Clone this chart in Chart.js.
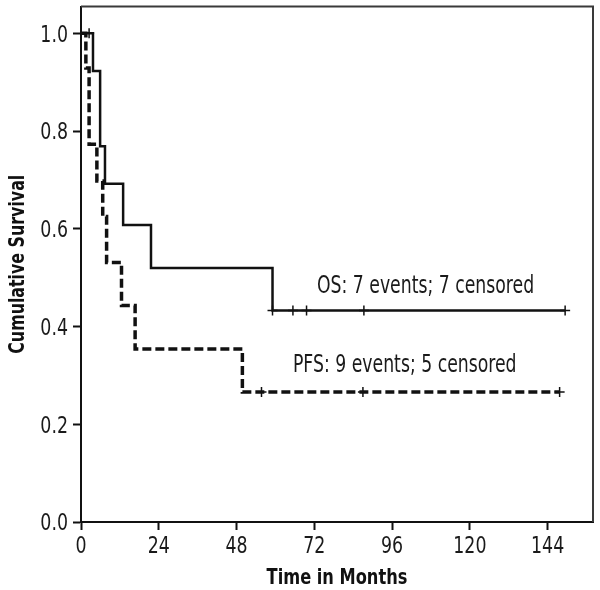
<!DOCTYPE html>
<html>
<head>
<meta charset="utf-8">
<script src="https://cdn.jsdelivr.net/npm/chart.js@4"></script>
<style>
  html, body { margin: 0; padding: 0; background: #fff; }
  #wrap { width: 600px; height: 590px; }
</style>
</head>
<body>
<div id="wrap"><canvas id="c" width="600" height="590"></canvas></div>
<script>
// ---- Data ----
// Overall survival (OS): step times (months) and survival after each step
const osTimes = [0, 3.7, 5.9, 7.4, 13.0, 21.6, 59.1, 149.4];
const osSurv  = [1.0, 0.923, 0.769, 0.692, 0.608, 0.520, 0.433, 0.433];
const osCensorTimes = [2.5, 59.1, 65.4, 69.6, 87.3, 149.4];

// Progression-free survival (PFS)
const pfsTimes = [0, 1.5, 2.5, 4.9, 6.7, 7.9, 12.5, 16.7, 49.8, 147.7];
const pfsSurv  = [1.0, 0.929, 0.773, 0.698, 0.625, 0.531, 0.443, 0.354, 0.266, 0.266];
const pfsCensorTimes = [55.7, 87.0, 147.7];

const xTicks = [0, 24, 48, 72, 96, 120, 144];
const yTicks = [0.0, 0.2, 0.4, 0.6, 0.8, 1.0];

const xTitle = 'Time in Months';
const yTitle = 'Cumulative Survival';
const osLabel = 'OS: 7 events; 7 censored';
const pfsLabel = 'PFS: 9 events; 5 censored';

// ---- helpers ----
function survAt(times, surv, t) {
  let s = surv[0];
  for (let i = 0; i < times.length; i++) { if (times[i] <= t) s = surv[i]; }
  return s;
}
const toPts = (ts, ss) => ts.map((t, i) => ({ x: t, y: ss[i] }));
const censorPts = (ct, ts, ss) => ct.map(t => ({ x: t, y: survAt(ts, ss, t) }));

const FONT = '"DejaVu Sans Condensed", "Liberation Sans Narrow", "Liberation Sans", Arial, sans-serif';

// draw horizontally condensed text (to mimic a condensed Helvetica)
function condText(ctx, text, x, y, opt) {
  ctx.save();
  ctx.translate(x, y);
  if (opt.rotate) ctx.rotate(opt.rotate);
  ctx.scale(opt.sx || 1, 1);
  ctx.font = (opt.weight || 'normal') + ' ' + opt.size + 'px ' + FONT;
  ctx.fillStyle = opt.color || '#1a1a1a';
  ctx.textAlign = opt.align || 'left';
  ctx.textBaseline = 'alphabetic';
  ctx.fillText(text, 0, 0);
  ctx.restore();
}

const boxPlugin = {
  id: 'box',
  afterDatasetsDraw(chart) {
    const { ctx, chartArea: a } = chart;
    ctx.save();
    ctx.strokeStyle = '#3a3a3a';
    ctx.lineWidth = 2;
    ctx.beginPath();
    ctx.moveTo(a.left, a.top);
    ctx.lineTo(a.right, a.top);
    ctx.lineTo(a.right, a.bottom);
    ctx.stroke();
    ctx.restore();
  }
};

const textPlugin = {
  id: 'labels',
  afterDraw(chart, args, opts) {
    const { ctx, chartArea: a, scales: { x, y } } = chart;
    // tick labels, positioned by the library's scales
    x.ticks.forEach(t => {
      condText(ctx, String(t.value), x.getPixelForValue(t.value), a.bottom + 31,
        { size: 23, sx: 0.84, align: 'center' });
    });
    y.ticks.forEach(t => {
      condText(ctx, t.value.toFixed(1), a.left - 13, y.getPixelForValue(t.value) + 8.4,
        { size: 23, sx: 0.84, align: 'right' });
    });
    // axis titles
    condText(ctx, xTitle, (a.left + a.right) / 2, a.bottom + 62,
      { size: 22, sx: 0.82, align: 'center', weight: 'bold', color: '#111' });
    condText(ctx, yTitle, 24, (a.top + a.bottom) / 2,
      { size: 22, sx: 0.8, align: 'center', weight: 'bold', color: '#111', rotate: -Math.PI / 2 });
    // annotations
    (opts.items || []).forEach(it => {
      condText(ctx, it.text, x.getPixelForValue(it.x), y.getPixelForValue(it.y),
        { size: 24, sx: 0.8, align: 'left' });
    });
  }
};

new Chart(document.getElementById('c'), {
  type: 'line',
  data: {
    datasets: [
      { label: 'OS', data: toPts(osTimes, osSurv), stepped: true, borderColor: '#111', borderWidth: 2.5,
        pointRadius: 0, fill: false },
      { label: 'PFS', data: toPts(pfsTimes, pfsSurv), stepped: true, borderColor: '#111', borderWidth: 3.5,
        borderDash: [9, 4], pointRadius: 0, fill: false },
      { label: 'OS censored', type: 'scatter', data: censorPts(osCensorTimes, osTimes, osSurv),
        pointStyle: 'cross', pointRadius: 5, borderColor: '#111', borderWidth: 1.5, showLine: false },
      { label: 'PFS censored', type: 'scatter', data: censorPts(pfsCensorTimes, pfsTimes, pfsSurv),
        pointStyle: 'cross', pointRadius: 5, borderColor: '#111', borderWidth: 1.5, showLine: false }
    ]
  },
  options: {
    responsive: false,
    animation: false,
    devicePixelRatio: 1,
    layout: { padding: { top: 5, right: 7, left: 0, bottom: 0 } },
    plugins: {
      legend: { display: false },
      tooltip: { enabled: false },
      labels: { items: [ { text: osLabel, x: 72.8, y: 0.469 }, { text: pfsLabel, x: 65.4, y: 0.308 } ] }
    },
    scales: {
      x: {
        type: 'linear', min: 0, max: 158,
        afterBuildTicks: s => { s.ticks = xTicks.map(v => ({ value: v })); },
        afterFit: s => { s.height = 68; },
        grid: { display: true, drawOnChartArea: false, drawTicks: true, tickLength: 8, tickColor: '#111', tickWidth: 2 },
        border: { display: true, color: '#111', width: 2 },
        ticks: { display: false },
        title: { display: false }
      },
      y: {
        type: 'linear', min: 0, max: 1.055,
        afterBuildTicks: s => { s.ticks = yTicks.map(v => ({ value: v })); },
        afterFit: s => { s.width = 81; },
        grid: { display: true, drawOnChartArea: false, drawTicks: true, tickLength: 8, tickColor: '#111', tickWidth: 2 },
        border: { display: true, color: '#111', width: 2 },
        ticks: { display: false },
        title: { display: false }
      }
    }
  },
  plugins: [boxPlugin, textPlugin]
});
</script>
</body>
</html>
